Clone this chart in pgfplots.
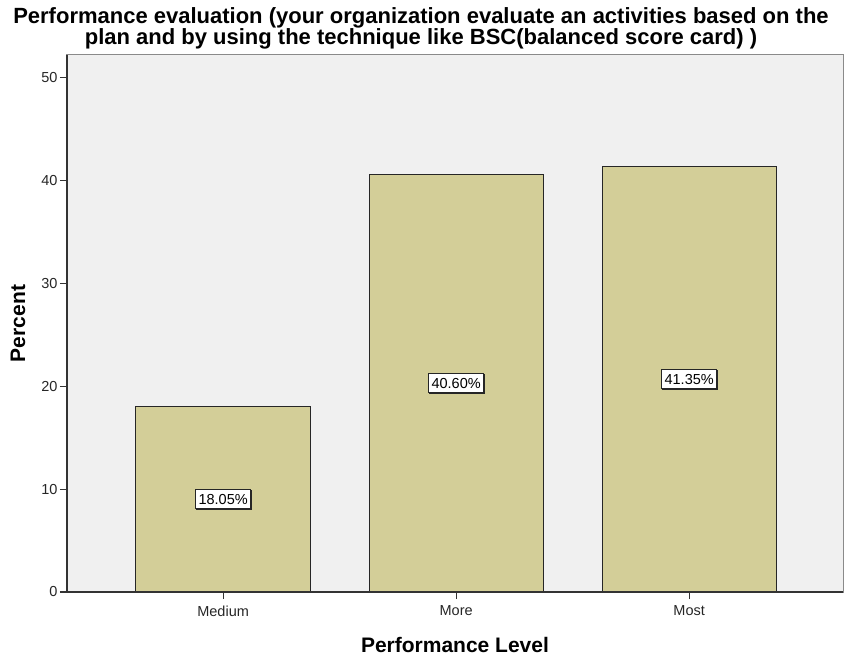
\documentclass[border=0pt]{standalone}
\usepackage{pgfplots}
\pgfplotsset{compat=1.18}
\usepackage{fontspec}
\setmainfont{Liberation Sans}
\usetikzlibrary{shadows}

\definecolor{barfill}{HTML}{D3CE98}
\definecolor{plotbg}{HTML}{F0F0F0}
\definecolor{axisdark}{HTML}{333333}
\definecolor{framegray}{HTML}{8A8A8A}

\begin{document}
\begin{tikzpicture}
\begin{axis}[
  scale only axis,
  width=776pt, height=537pt,
  xmin=-0.67, xmax=2.66,
  ymin=0, ymax=52.2,
  axis background/.style={fill=plotbg},
  axis line style={framegray, line width=1pt},
  xtick=data,
  xticklabels={Medium,More,Most},
  ytick={0,10,20,30,40,50},
  tick align=outside,
  major tick length=7pt,
  every tick/.style={axisdark, line width=1.2pt},
  xtick pos=bottom, ytick pos=left,
  /pgf/number format/assume math mode=true,
  tick label style={font=\fontsize{14.5}{16}\selectfont, text=black!85},
  xticklabel style={yshift=-3pt},
  yticklabel style={xshift=1pt},
  title={Performance evaluation (your organization evaluate an activities based on the\\plan and by using the technique like BSC(balanced score card) )},
  title style={font=\bfseries\fontsize{22}{19}\selectfont, align=center,
    at={(axis description cs:0.5,1)}, anchor=south, yshift=-4pt, xshift=-34pt},
  xlabel={Performance Level},
  xlabel style={font=\bfseries\fontsize{21}{22}\selectfont,
    at={(axis description cs:0.5,0)}, anchor=center, yshift=-53pt},
  ylabel={Percent},
  ylabel style={font=\bfseries\fontsize{21}{22}\selectfont,
    at={(axis description cs:-0.0631,0.5)}, anchor=center},
  ybar, bar width=0.748,
  visualization depends on={rawy \as \barval},
  nodes near coords={\pgfmathprintnumber[fixed,fixed zerofill,precision=2]{\barval}\%},
  every node near coord/.append style={anchor=center, yshift=-5.1437pt*\barval,
    fill=white, draw=black!85, line width=0.9pt, inner xsep=3pt, inner ysep=4.5pt, text=black,
    font=\fontsize{14.5}{16}\selectfont,
    drop shadow={shadow xshift=0.8pt, shadow yshift=-0.8pt, fill=black!40, opacity=1}},
]
\addplot[fill=barfill, draw=black!85, line width=1pt] coordinates {
  (0,18.05) (1,40.60) (2,41.35)
};
\end{axis}
% darker left and bottom axis lines
\draw[axisdark, line width=1.4pt] (0,537pt) -- (0,0) -- (776pt,0);
% page extent
\path (-67pt,-70pt) rectangle (782pt,592pt);
\end{tikzpicture}
\end{document}
